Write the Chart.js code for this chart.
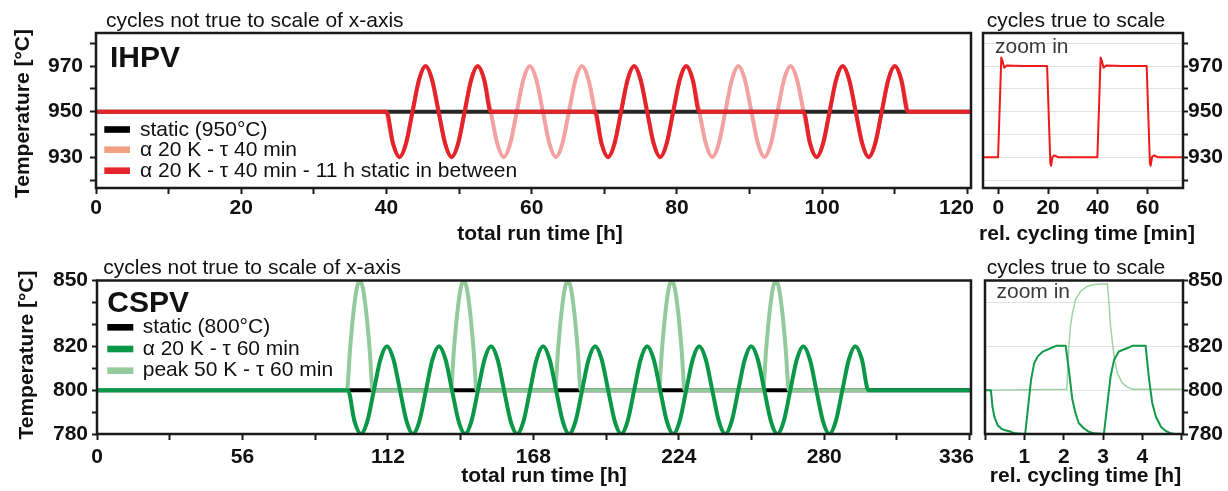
<!DOCTYPE html>
<html>
<head>
<meta charset="utf-8">
<script src="https://cdn.jsdelivr.net/npm/chart.js@4.4.1/dist/chart.umd.min.js"></script>
<style>
  body { margin: 0; background: #fff; }
  #wrap { position: relative; width: 1228px; height: 491px; overflow: hidden; }
  canvas { position: absolute; }
</style>
</head>
<body>
<div id="wrap">
  <canvas id="ihpv" width="980" height="250" style="left:0;top:0"></canvas>
  <canvas id="ihpvZoom" width="248" height="250" style="left:980px;top:0"></canvas>
  <canvas id="cspv" width="980" height="241" style="left:0;top:250px"></canvas>
  <canvas id="cspvZoom" width="248" height="241" style="left:980px;top:250px"></canvas>
</div>
<script>
// ---- IHPV, total run time [h] (cycles not to scale) ----
const ihpvTime = [0,
  40.00, 40.90, 41.80, 42.69, 43.59, 44.49, 45.39, 46.28,
  47.18, 48.08, 48.98, 49.87, 50.77, 51.67, 52.57, 53.46,
  54.36, 55.26, 56.16, 57.05, 57.95, 58.85, 59.75, 60.64,
  61.54, 62.44, 63.34, 64.23, 65.13, 66.03, 66.93, 67.82,
  68.72, 69.62, 70.52, 71.41, 72.31, 73.21, 74.11, 75.00,
  75.90, 76.80, 77.70, 78.59, 79.49, 80.39, 81.29, 82.18,
  83.08, 83.98, 84.88, 85.77, 86.67, 87.57, 88.47, 89.36,
  90.26, 91.16, 92.06, 92.95, 93.85, 94.75, 95.65, 96.54,
  97.44, 98.34, 99.24, 100.13, 101.03, 101.93, 102.83, 103.72,
  104.62, 105.52, 106.42, 107.31, 108.21, 109.11, 110.01, 110.90,
  111.80, 120.5]
const ihpvCycled = [null,
  950, 936, 930, 936, 950, 964, 970, 964,
  950, 936, 930, 936, 950, 964, 970, 964,
  950, 936, 930, 936, 950, 964, 970, 964,
  950, 936, 930, 936, 950, 964, 970, 964,
  950, 936, 930, 936, 950, 964, 970, 964,
  950, 936, 930, 936, 950, 964, 970, 964,
  950, 936, 930, 936, 950, 964, 970, 964,
  950, 936, 930, 936, 950, 964, 970, 964,
  950, 936, 930, 936, 950, 964, 970, 964,
  950, 936, 930, 936, 950, 964, 970, 964,
  950, null]
const ihpvStaticBetween = [950,
  950, 936, 930, 936, 950, 964, 970, 964,
  950, 936, 930, 936, 950, 964, 970, 964,
  950, 950, 950, 950, 950, 950, 950, 950,
  950, 950, 950, 950, 950, 950, 950, 950,
  950, 936, 930, 936, 950, 964, 970, 964,
  950, 936, 930, 936, 950, 964, 970, 964,
  950, 950, 950, 950, 950, 950, 950, 950,
  950, 950, 950, 950, 950, 950, 950, 950,
  950, 936, 930, 936, 950, 964, 970, 964,
  950, 936, 930, 936, 950, 964, 970, 964,
  950, 950]
const ihpvStaticTime = [0, 120.5]
const ihpvStatic = [950, 950]

// ---- IHPV zoom, rel. cycling time [min] ----
const ihpvZoomTime = [-6.2, -0.1, 1.2, 1.6, 2.4, 3.4, 10, 19.6, 20.9, 21.2, 21.8, 22.6, 24, 30,
  39.8, 41.1, 41.5, 42.3, 43.3, 50, 59.6, 60.9, 61.2, 61.8, 62.6, 64, 74.2]
const ihpvZoomTemp = [930, 930, 973.7, 972.5, 969.3, 970.2, 970, 970, 927.5, 926.3, 930.2, 930.8, 930, 930,
  930, 973.7, 972.5, 969.3, 970.2, 970, 970, 927.5, 926.3, 930.2, 930.8, 930, 930]

// ---- CSPV, total run time [h] ----
const cspvTime = [0,
  96.60, 99.11, 101.61, 104.12, 106.62, 109.13, 111.63, 114.14,
  116.64, 119.15, 121.65, 124.16, 126.66, 129.17, 131.67, 134.18,
  136.68, 139.19, 141.69, 144.20, 146.70, 149.21, 151.71, 154.22,
  156.72, 159.23, 161.73, 164.24, 166.74, 169.25, 171.75, 174.26,
  176.76, 179.27, 181.77, 184.28, 186.78, 189.29, 191.79, 194.30,
  196.80, 199.31, 201.81, 204.32, 206.82, 209.33, 211.83, 214.34,
  216.84, 219.35, 221.85, 224.36, 226.86, 229.37, 231.87, 234.38,
  236.88, 239.39, 241.89, 244.40, 246.90, 249.41, 251.91, 254.42,
  256.92, 259.43, 261.93, 264.44, 266.94, 269.45, 271.95, 274.46,
  276.96, 279.47, 281.97, 284.48, 286.98, 289.49, 291.99, 294.50,
  297.00, 336.5]
const cspvAlpha = [800,
  800, 786, 780, 786, 800, 814, 820, 814,
  800, 786, 780, 786, 800, 814, 820, 814,
  800, 786, 780, 786, 800, 814, 820, 814,
  800, 786, 780, 786, 800, 814, 820, 814,
  800, 786, 780, 786, 800, 814, 820, 814,
  800, 786, 780, 786, 800, 814, 820, 814,
  800, 786, 780, 786, 800, 814, 820, 814,
  800, 786, 780, 786, 800, 814, 820, 814,
  800, 786, 780, 786, 800, 814, 820, 814,
  800, 786, 780, 786, 800, 814, 820, 814,
  800, 800]
const cspvPeakTime = [0,
  96.2, 97.45, 98.7, 99.95, 101.2, 102.45, 103.7, 104.95, 106.2,
  136.2, 137.45, 138.7, 139.95, 141.2, 142.45, 143.7, 144.95, 146.2,
  176.3, 177.55, 178.8, 180.05, 181.3, 182.55, 183.8, 185.05, 186.3,
  216.3, 217.55, 218.8, 220.05, 221.3, 222.55, 223.8, 225.05, 226.3,
  256.4, 257.65, 258.9, 260.15, 261.4, 262.65, 263.9, 265.15, 266.4,
  297]
const cspvPeak = [800,
  800, 819, 835, 846, 850, 846, 835, 819, 800,
  800, 819, 835, 846, 850, 846, 835, 819, 800,
  800, 819, 835, 846, 850, 846, 835, 819, 800,
  800, 819, 835, 846, 850, 846, 835, 819, 800,
  800, 819, 835, 846, 850, 846, 835, 819, 800,
  800]
const cspvStaticTime = [0, 336.5]
const cspvStatic = [800, 800]

// ---- CSPV zoom, rel. cycling time [h] ----
const cspvZoomTime = [0, 0.15, 0.19, 0.235, 0.32, 0.405, 0.49, 0.66, 0.75, 1.02,
  1.17, 1.25, 1.34, 1.47, 1.68, 1.81, 2.05, 2.13, 2.22, 2.30, 2.38, 2.51, 2.64, 2.77, 3.02,
  3.11, 3.19, 3.28, 3.40, 3.62, 3.74, 4.08, 4.17, 4.25, 4.34, 4.47, 4.59, 4.72, 4.8]
const cspvZoomAlpha = [800, 800, 792.5, 788, 784, 782.6, 781.8, 781, 780.3, 780,
  804.7, 812.3, 815.4, 817.6, 819.2, 820.2, 820.2, 809.3, 795.6, 789.5, 785, 782.6, 781, 780.3, 780,
  794, 806.2, 813.9, 817.6, 819.2, 820.2, 820.2, 804.7, 794, 788, 783.3, 781.4, 780.3, 780]
const cspvZoomPeakTime = [0, 2.08, 2.10, 2.13, 2.17, 2.22, 2.30, 2.43, 2.60, 2.77, 3.11,
  3.15, 3.19, 3.28, 3.36, 3.49, 3.62, 3.74, 5.03]
const cspvZoomPeak = [800, 800.4, 809, 820, 829, 835, 841.3, 845.1, 847.4, 848.2, 848.5,
  839.8, 829, 815.4, 807.8, 803.2, 801.4, 800.4, 800.4]

// ---- ticks ----
const ihpvXTicks = [0, 10, 20, 30, 40, 50, 60, 70, 80, 90, 100, 110, 120]
const ihpvXLabels = [0, 20, 40, 60, 80, 100, 120]
const ihpvYTicks = [920, 930, 940, 950, 960, 970, 980]
const ihpvYLabels = [930, 950, 970]
const minTicks = [0, 20, 40, 60]
const cspvXTicks = [0, 28, 56, 84, 112, 140, 168, 196, 224, 252, 280, 308, 336]
const cspvXLabels = [0, 56, 112, 168, 224, 280, 336]
const cspvYTicks = [780, 790, 800, 810, 820, 830, 840, 850]
const cspvYLabels = [780, 800, 820, 850]
const cspvZoomGrid = [780, 800, 820, 840]
const hourTicks = [0, 1, 2, 3, 4, 5]
const hourLabels = [1, 2, 3, 4]

const FONT = '"Liberation Sans", Arial, sans-serif'
Chart.defaults.font.family = FONT
Chart.defaults.color = '#111'

function pts(xs, ys) {
  return xs.map((x, i) => ({ x: x, y: ys[i] }))
}

function line(label, xs, ys, color, width, smooth) {
  return {
    label: label,
    data: pts(xs, ys),
    borderColor: color,
    borderWidth: width,
    pointRadius: 0,
    cubicInterpolationMode: smooth ? 'monotone' : 'default',
    tension: 0,
    borderJoinStyle: 'round'
  }
}

function xAxis(min, max, ticks, labels, pad, height) {
  return {
    type: 'linear', min: min, max: max,
    border: { display: false },
    grid: { drawOnChartArea: false, tickLength: 6, tickColor: '#1a1a1a', tickWidth: 2 },
    ticks: {
      autoSkip: false, maxRotation: 0, minRotation: 0, padding: pad,
      font: { size: 21, weight: 'bold' },
      callback: v => labels.includes(v) ? String(v) : ''
    },
    afterBuildTicks: s => { s.ticks = ticks.map(v => ({ value: v })) },
    afterFit: s => { s.height = height; s.paddingLeft = 0; s.paddingRight = 0 }
  }
}

function yAxis(min, max, ticks, labels, side, tl, pad, width, gridVals) {
  return {
    type: 'linear', min: min, max: max, position: side,
    border: { display: false },
    grid: {
      drawOnChartArea: !!gridVals,
      color: c => (gridVals && c.tick && gridVals.includes(c.tick.value)) ? '#e2e2e2' : 'rgba(0,0,0,0)',
      lineWidth: 1,
      tickLength: tl, tickColor: '#1a1a1a', tickWidth: 2
    },
    ticks: {
      autoSkip: false, padding: pad,
      font: { size: 21, weight: 'bold' },
      callback: v => labels.includes(v) ? String(v) : ''
    },
    afterBuildTicks: s => { s.ticks = ticks.map(v => ({ value: v })) },
    afterFit: s => { s.width = width; s.paddingTop = 0; s.paddingBottom = 0 }
  }
}

// frame, texts and the in-plot legend
function deco(offX, offY, texts, legend) {
  return {
    id: 'deco',
    beforeDraw(chart) {
      // last x label sits flush with the frame, as in the figure
      const sc = chart.scales.x
      if (!sc || !legend) return
      const items = sc.getLabelItems()
      const last = items.filter(it => it.label !== '').pop()
      if (last) {
        last.options.textAlign = 'right'
        last.options.translation[0] = chart.chartArea.right + 3
      }
    },
    afterDraw(chart) {
      const ctx = chart.ctx
      const a = chart.chartArea
      ctx.save()
      ctx.strokeStyle = '#1a1a1a'
      ctx.lineWidth = 2.5
      ctx.strokeRect(a.left, a.top, a.right - a.left, a.bottom - a.top)
      texts.forEach(t => {
        ctx.save()
        ctx.font = t.font
        ctx.fillStyle = t.color || '#111'
        ctx.textAlign = t.align || 'left'
        ctx.textBaseline = 'alphabetic'
        ctx.translate(t.x - offX, t.y - offY)
        if (t.rotate) ctx.rotate(-Math.PI / 2)
        ctx.fillText(t.text, 0, 0)
        ctx.restore()
      })
      if (legend) {
        ctx.font = '21px ' + FONT
        ctx.textAlign = 'left'
        ctx.textBaseline = 'alphabetic'
        legend.rows.forEach(r => {
          ctx.fillStyle = r.color
          ctx.fillRect(legend.x0 - offX, r.y - 3.3 - offY, legend.x1 - legend.x0, 6.6)
          ctx.fillStyle = '#111'
          ctx.fillText(r.text, legend.tx - offX, r.y + legend.dy - offY)
        })
      }
      ctx.restore()
    }
  }
}

function baseOptions(padding, x, y) {
  return {
    responsive: false,
    animation: false,
    devicePixelRatio: 1,
    layout: { padding: padding, autoPadding: false },
    plugins: { legend: { display: false }, tooltip: { enabled: false }, title: { display: false } },
    scales: { x: x, y: y }
  }
}

const regular = '21px ' + FONT
const bold = 'bold 21px ' + FONT
const big = 'bold 30px ' + FONT

new Chart(document.getElementById('ihpv'), {
  type: 'line',
  data: { datasets: [
    line('α 20 K - τ 40 min - 11 h static in between', ihpvTime, ihpvStaticBetween, '#e5232a', 4, true),
    line('static (950°C)', ihpvStaticTime, ihpvStatic, '#262626', 4, false),
    line('α 20 K - τ 40 min', ihpvTime, ihpvCycled, '#f3a1a1', 4, true)
  ] },
  options: baseOptions({ left: 0, top: 33, right: 9, bottom: 0 },
    xAxis(0, 120.5, ihpvXTicks, ihpvXLabels, 2, 62),
    yAxis(916.5, 984.5, ihpvYTicks, ihpvYLabels, 'left', 6, 7, 96, null)),
  plugins: [deco(0, 0, [
    { text: 'cycles not true to scale of x-axis', x: 106, y: 26.5, font: regular },
    { text: 'IHPV', x: 110, y: 66.5, font: big },
    { text: 'Temperature [°C]', x: 28.5, y: 113.5, font: bold, align: 'center', rotate: true },
    { text: 'total run time [h]', x: 540, y: 239.5, font: bold, align: 'center' }
  ], {
    x0: 104.3, x1: 130, tx: 140, dy: 6,
    rows: [
      { color: '#000', text: 'static (950°C)', y: 129.5 },
      { color: '#f2a084', text: 'α 20 K - τ 40 min', y: 149.7 },
      { color: '#e5232a', text: 'α 20 K - τ 40 min - 11 h static in between', y: 170.7 }
    ]
  })]
})

new Chart(document.getElementById('ihpvZoom'), {
  type: 'line',
  data: { datasets: [
    line('zoom in', ihpvZoomTime, ihpvZoomTemp, '#f01818', 2, false)
  ] },
  options: baseOptions({ left: 3, top: 33, right: 0, bottom: 0 },
    xAxis(-6.15, 74.2, minTicks, minTicks, 2, 62),
    yAxis(916.5, 984.5, ihpvYTicks, ihpvYLabels, 'right', 5, 0, 45, ihpvYTicks)),
  plugins: [deco(980, 0, [
    { text: 'cycles true to scale', x: 986.7, y: 26.7, font: regular },
    { text: 'zoom in', x: 995, y: 53.3, font: regular, color: '#3a3a3a' },
    { text: 'rel. cycling time [min]', x: 1087, y: 239.5, font: bold, align: 'center' }
  ], null)]
})

new Chart(document.getElementById('cspv'), {
  type: 'line',
  data: { datasets: [
    line('α 20 K - τ 60 min', cspvTime, cspvAlpha, '#0a9748', 4, true),
    line('peak 50 K - τ 60 min', cspvPeakTime, cspvPeak, '#93ca9b', 4, true),
    line('static (800°C)', cspvStaticTime, cspvStatic, '#000', 4, false)
  ] },
  options: baseOptions({ left: 0, top: 30.5, right: 9, bottom: 0 },
    xAxis(0, 336.5, cspvXTicks, cspvXLabels, 5, 57),
    yAxis(780, 850, cspvYTicks, cspvYLabels, 'left', 5, 4, 97, null)),
  plugins: [deco(0, 250, [
    { text: 'cycles not true to scale of x-axis', x: 103.3, y: 274, font: regular },
    { text: 'CSPV', x: 107.3, y: 312.3, font: big },
    { text: 'Temperature [°C]', x: 33.3, y: 355, font: bold, align: 'center', rotate: true },
    { text: 'total run time [h]', x: 544, y: 481.5, font: bold, align: 'center' }
  ], {
    x0: 107.3, x1: 133.3, tx: 142.7, dy: 5.5,
    rows: [
      { color: '#000', text: 'static (800°C)', y: 327.3 },
      { color: '#0a9748', text: 'α 20 K - τ 60 min', y: 349 },
      { color: '#93ca9b', text: 'peak 50 K - τ 60 min', y: 370.7 }
    ]
  })]
})

new Chart(document.getElementById('cspvZoom'), {
  type: 'line',
  data: { datasets: [
    line('α 20 K - τ 60 min', cspvZoomTime, cspvZoomAlpha, '#129a4a', 2, false),
    line('peak 50 K - τ 60 min', cspvZoomPeakTime, cspvZoomPeak, '#9fd3a6', 1.5, false)
  ] },
  options: baseOptions({ left: 5, top: 30.5, right: 0, bottom: 0 },
    xAxis(0, 5.03, hourTicks, hourLabels, 5, 57),
    yAxis(780, 850, cspvYTicks, cspvYLabels, 'right', 5, 0, 45, cspvZoomGrid)),
  plugins: [deco(980, 250, [
    { text: 'cycles true to scale', x: 986.7, y: 273.5, font: regular },
    { text: 'zoom in', x: 996.5, y: 298, font: regular, color: '#3a3a3a' },
    { text: 'rel. cycling time [h]', x: 1085.5, y: 481.5, font: bold, align: 'center' }
  ], null)]
})
</script>
</body>
</html>
